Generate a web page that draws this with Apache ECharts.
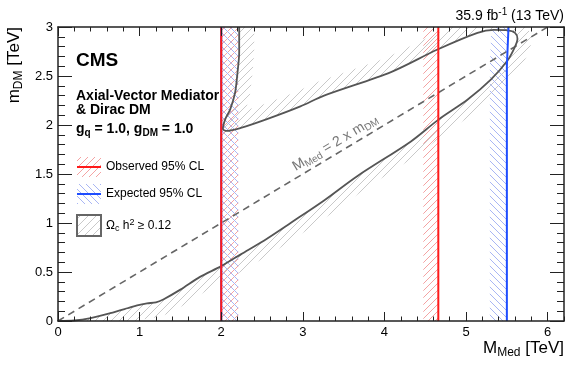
<!DOCTYPE html>
<html>
<head>
<meta charset="utf-8">
<script src="https://cdn.jsdelivr.net/npm/echarts@6/dist/echarts.min.js"></script>
<style>
html, body { margin: 0; padding: 0; background: #fff; }
#chart { width: 581px; height: 365px; }
</style>
</head>
<body>
<div id="chart"></div>
<script>
// 数据 [M_Med, m_DM] (TeV)
// relic density contour, drawn as one path: lower branch -> tip -> upper branch -> vertical part
const relicContour = [
  [0, 0], [0.2, 0.005], [0.4, 0.03], [0.64, 0.08], [0.85, 0.13], [0.97, 0.16],
  [1.09, 0.18], [1.2, 0.19], [1.29, 0.22], [1.5, 0.32], [1.74, 0.45], [2.0, 0.56],
  [2.24, 0.68], [2.56, 0.84], [2.85, 1.0], [3.26, 1.23], [3.67, 1.48], [4.32, 1.83],
  [4.67, 2.06], [5.02, 2.26], [5.3, 2.46], [5.51, 2.66], [5.6, 2.8], [5.63, 2.88],
  [5.6, 2.94], [5.51, 2.965], [5.34, 2.97], [5.14, 2.94], [4.65, 2.77], [4.08, 2.54],
  [3.26, 2.3], [2.97, 2.19], [2.56, 2.06], [2.24, 1.97], [2.07, 1.94], [2.02, 1.96],
  [2.05, 2.06], [2.11, 2.16], [2.17, 2.33], [2.2, 2.54], [2.22, 2.74], [2.22, 3.0]
];
// observed / expected 95% CL boundaries (order sets the hatched side)
const observedLow = [[2.0, 0], [2.0, 3]];
const observedHigh = [[4.66, 3], [4.66, 0]];
const expectedLow = [[2.0, 0], [2.0, 3]];
const expectedHigh = [[5.52, 3], [5.5, 2.6], [5.5, 0]];
// M_Med = 2 x m_DM
const diagonal = [[0, 0], [6, 3]];
const diagLabelAt = 3.46;

const FONT = 'Liberation Sans, Arial, Helvetica, sans-serif';

// 斜线填充的图案
function hatch(color, size, dir) {
  const c = document.createElement('canvas');
  c.width = size;
  c.height = size;
  const g = c.getContext('2d');
  g.strokeStyle = color;
  g.lineWidth = 1;
  g.beginPath();
  if (dir === '/') {
    g.moveTo(-1, size + 1); g.lineTo(size + 1, -1);
    g.moveTo(-1, 1); g.lineTo(1, -1);
    g.moveTo(size - 1, size + 1); g.lineTo(size + 1, size - 1);
  } else {
    g.moveTo(-1, -1); g.lineTo(size + 1, size + 1);
    g.moveTo(size - 1, -1); g.lineTo(size + 1, 1);
    g.moveTo(-1, size - 1); g.lineTo(1, size + 1);
  }
  g.stroke();
  return c;
}
const redHatch = hatch('#f4a3a3', 7, '/');
const blueHatch = hatch('#a9b6f4', 7, '\\');
const grayHatch = hatch('#c9c9c9', 8, '/');

// hatched strip on the right-hand side of a path (pixel width)
function bandSeries(path, width, pattern, z) {
  return {
    type: 'custom',
    z: z,
    silent: true,
    xAxisIndex: 0,
    yAxisIndex: 0,
    data: [[0, 0]],
    renderItem: function (params, api) {
      const pts = path.map(p => api.coord(p));
      const n = pts.length;
      const off = [];
      for (let i = 0; i < n; i++) {
        const a = pts[Math.max(i - 1, 0)];
        const b = pts[Math.min(i + 1, n - 1)];
        const dx = b[0] - a[0], dy = b[1] - a[1];
        const len = Math.hypot(dx, dy) || 1;
        off.push([pts[i][0] - dy / len * width, pts[i][1] + dx / len * width]);
      }
      const cs = params.coordSys;
      return {
        type: 'polygon',
        shape: { points: pts.concat(off.reverse()) },
        style: { fill: { image: pattern, repeat: 'repeat' }, stroke: null },
        clipPath: { type: 'rect', shape: { x: cs.x, y: cs.y, width: cs.width, height: cs.height } }
      };
    }
  };
}

function lineSeries(data, color, width, z, dashed) {
  return {
    type: 'line',
    data: data,
    xAxisIndex: 0,
    yAxisIndex: 0,
    showSymbol: false,
    silent: true,
    z: z,
    lineStyle: { color: color, width: width, type: dashed ? [7, 5] : 'solid' }
  };
}

const chart = echarts.init(document.getElementById('chart'));

// 刻度线样式 (用一个很长的虚线段, 让刻度单独绘制)
function tickLine() {
  return { color: '#222', width: 1, type: [1000, 0] };
}
// 坐标轴: 主刻度和次刻度分开, 四周都有刻度
function xAxisOf(position, interval, tickLen, withLine, withLabel) {
  return {
    type: 'value', min: 0, max: 6.2, interval: interval, position: position, z: 10,
    axisLine: { show: withLine, onZero: false, lineStyle: { color: '#222', width: 1.5 } },
    axisTick: { show: true, inside: true, length: tickLen, lineStyle: tickLine() },
    axisLabel: { show: withLabel, showMaxLabel: false, fontSize: 13, color: '#000', margin: 5, fontFamily: FONT },
    splitLine: { show: false }
  };
}
function yAxisOf(position, withLabel) {
  return {
    type: 'value', min: 0, max: 3, interval: 0.5, position: position, z: 10,
    axisLine: { show: true, onZero: false, lineStyle: { color: '#222', width: 1.5 } },
    axisTick: { show: true, inside: true, length: 14, lineStyle: tickLine() },
    minorTick: { show: true, splitNumber: 5, length: 7, lineStyle: tickLine() },
    axisLabel: { show: withLabel, fontSize: 13, color: '#000', margin: 5, fontFamily: FONT },
    splitLine: { show: false },
    minorSplitLine: { show: false }
  };
}

const option = {
  animation: false,
  backgroundColor: '#fff',
  textStyle: { fontFamily: FONT },
  grid: { left: 58, right: 17, top: 27, bottom: 44, containLabel: false, outerBoundsMode: 'none' },
  xAxis: [
    xAxisOf('bottom', 1, 9, true, true),
    xAxisOf('bottom', 0.2, 4.5, false, false),
    xAxisOf('top', 1, 9, true, false),
    xAxisOf('top', 0.2, 4.5, false, false)
  ],
  yAxis: [
    yAxisOf('left', true),
    yAxisOf('right', false)
  ],
  series: [
    bandSeries(relicContour, 15, grayHatch, 1),
    bandSeries(observedLow, 17, redHatch, 2),
    bandSeries(observedHigh, 15, redHatch, 2),
    bandSeries(expectedLow, 17, blueHatch, 3),
    bandSeries(expectedHigh, 17, blueHatch, 3),
    lineSeries(diagonal, '#666', 1.6, 4, true),
    Object.assign(lineSeries(relicContour, '#555', 1.8, 5, false), { smooth: 0.3 }),
    lineSeries(expectedLow, '#1e4dff', 2, 6, false),
    lineSeries(expectedHigh, '#1e4dff', 2, 6, false),
    lineSeries(observedLow, '#ff1a1a', 2, 7, false),
    lineSeries(observedHigh, '#ff1a1a', 2, 7, false)
  ],
  graphic: [
    { id: 'cms', type: 'text', x: 76, y: 61, style: { text: 'CMS', fontFamily: FONT, fontSize: 19, fontWeight: 'bold', fill: '#000', verticalAlign: 'middle' } },
    { id: 'model1', type: 'text', x: 76, y: 96, style: { text: 'Axial-Vector Mediator', fontFamily: FONT, fontSize: 14, fontWeight: 'bold', fill: '#000', verticalAlign: 'middle' } },
    { id: 'model2', type: 'text', x: 76, y: 110, style: { text: '& Dirac DM', fontFamily: FONT, fontSize: 14, fontWeight: 'bold', fill: '#000', verticalAlign: 'middle' } },
    {
      id: 'coupling', type: 'text', x: 76, y: 129,
      style: {
        text: 'g{sub|q} = 1.0, g{sub|DM} = 1.0', fontFamily: FONT, fontSize: 14, fontWeight: 'bold', fill: '#000', verticalAlign: 'middle',
        rich: { sub: { fontFamily: FONT, fontSize: 10, fontWeight: 'bold', padding: [8, 0, 0, 0] } }
      }
    },
    // 图例
    { id: 'obsBox', type: 'rect', shape: { x: 77, y: 157, width: 24, height: 20 }, style: { fill: { image: redHatch, repeat: 'repeat' } } },
    { id: 'obsLine', type: 'line', shape: { x1: 77, y1: 167, x2: 101, y2: 167 }, style: { stroke: '#ff1a1a', lineWidth: 2 } },
    { id: 'obsText', type: 'text', x: 106, y: 167, style: { text: 'Observed 95% CL', fontFamily: FONT, fontSize: 12, fill: '#000', verticalAlign: 'middle' } },
    { id: 'expBox', type: 'rect', shape: { x: 77, y: 184, width: 24, height: 20 }, style: { fill: { image: blueHatch, repeat: 'repeat' } } },
    { id: 'expLine', type: 'line', shape: { x1: 77, y1: 194, x2: 101, y2: 194 }, style: { stroke: '#1e4dff', lineWidth: 2 } },
    { id: 'expText', type: 'text', x: 106, y: 194, style: { text: 'Expected 95% CL', fontFamily: FONT, fontSize: 12, fill: '#000', verticalAlign: 'middle' } },
    { id: 'relicBox', type: 'rect', shape: { x: 77, y: 215, width: 24, height: 21 }, style: { fill: { image: grayHatch, repeat: 'repeat' }, stroke: '#666', lineWidth: 2 } },
    {
      id: 'relicText', type: 'text', x: 106, y: 226,
      style: {
        text: 'Ω{sub|c} h{sup|2} ≥ 0.12', fontFamily: FONT, fontSize: 12, fill: '#000', verticalAlign: 'middle',
        rich: {
          sub: { fontFamily: FONT, fontSize: 9, padding: [6, 0, 0, 0] },
          sup: { fontFamily: FONT, fontSize: 9, padding: [0, 0, 6, 0] }
        }
      }
    },
    {
      id: 'lumi', type: 'text', x: 564, y: 16,
      style: {
        text: '35.9 fb{sup|-1} (13 TeV)', fontFamily: FONT, fontSize: 14, fill: '#000', align: 'right', verticalAlign: 'middle',
        rich: { sup: { fontFamily: FONT, fontSize: 10, padding: [0, 0, 8, 0] } }
      }
    },
    {
      id: 'xTitle', type: 'text', x: 564, y: 348,
      style: {
        text: 'M{sub|Med} [TeV]', fontFamily: FONT, fontSize: 17, fill: '#000', align: 'right', verticalAlign: 'middle',
        rich: { sub: { fontFamily: FONT, fontSize: 12, padding: [9, 0, 0, 0] } }
      }
    },
    {
      id: 'yTitle', type: 'text', x: 14, y: 27, rotation: Math.PI / 2,
      style: {
        text: 'm{sub|DM} [TeV]', fontFamily: FONT, fontSize: 17, fill: '#000', align: 'right', verticalAlign: 'middle',
        rich: { sub: { fontFamily: FONT, fontSize: 12, padding: [9, 0, 0, 0] } }
      }
    }
  ]
};
chart.setOption(option);

// 对角线上的文字, 沿着线的方向旋转
const p0 = chart.convertToPixel({ xAxisIndex: 0, yAxisIndex: 0 }, diagonal[0]);
const p1 = chart.convertToPixel({ xAxisIndex: 0, yAxisIndex: 0 }, diagonal[1]);
const pm = chart.convertToPixel({ xAxisIndex: 0, yAxisIndex: 0 }, [diagLabelAt, diagLabelAt * diagonal[1][1] / diagonal[1][0]]);
const dx = p1[0] - p0[0], dy = p1[1] - p0[1];
const len = Math.hypot(dx, dy);
const gap = 10;
chart.setOption({
  graphic: [{
    id: 'diagLabel', type: 'text',
    x: pm[0] + dy / len * gap, y: pm[1] - dx / len * gap,
    rotation: Math.atan2(-dy, dx),
    style: {
      text: 'M{sub|Med} = 2 x m{sub|DM}', fontFamily: FONT, fontSize: 14, fill: '#777', align: 'center', verticalAlign: 'middle',
      rich: { sub: { fontFamily: FONT, fontSize: 10, fill: '#777', padding: [7, 0, 0, 0] } }
    }
  }]
});
</script>
</body>
</html>
